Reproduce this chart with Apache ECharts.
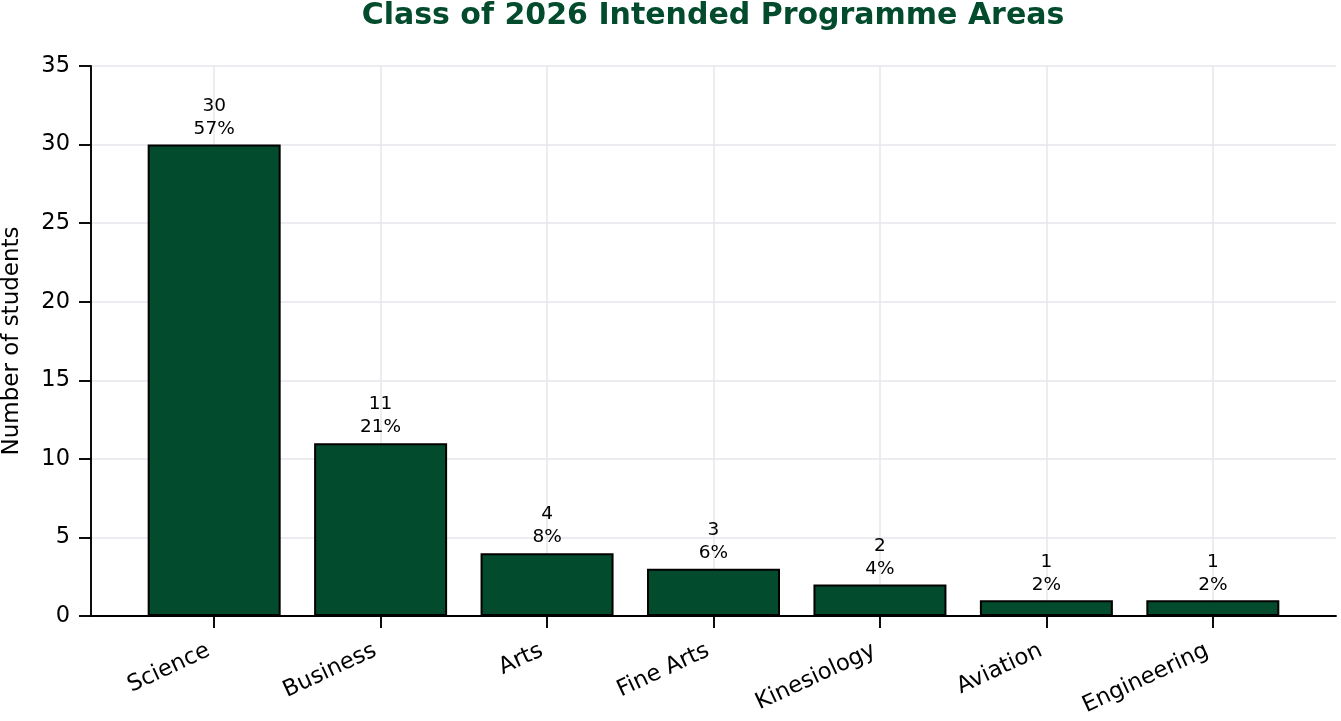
<!DOCTYPE html>
<html>
<head>
<meta charset="utf-8">
<script src="https://cdn.jsdelivr.net/npm/echarts@6/dist/echarts.min.js"></script>
<style>
html,body{margin:0;padding:0;background:#fff;}
#chart{width:1341px;height:721px;}
</style>
</head>
<body>
<div id="chart"></div>
<script>
const categories = ['Science', 'Business', 'Arts', 'Fine Arts', 'Kinesiology', 'Aviation', 'Engineering'];
const counts = [30, 11, 4, 3, 2, 1, 1];
const percents = ['57%', '21%', '8%', '6%', '4%', '2%', '2%'];
const yTicks = [0, 5, 10, 15, 20, 25, 30, 35];

const FONT = 'DejaVu Sans';
const GREEN = '#024b2c';
const positions = categories.map((c, i) => i);

const chart = echarts.init(document.getElementById('chart'), null, {renderer: 'canvas'});
chart.setOption({
  animation: false,
  backgroundColor: '#ffffff',
  title: {
    text: 'Class of 2026 Intended Programme Areas',
    left: 713,
    textAlign: 'center',
    top: 1,
    padding: 0,
    textStyle: {fontFamily: FONT, fontSize: 30, fontWeight: 'bold', color: GREEN}
  },
  grid: {left: 91, right: 5, top: 66, bottom: 105, containLabel: false, outerBoundsMode: 'none'},
  xAxis: {
    type: 'value',
    min: -0.74,
    max: 6.74,
    axisLine: {show: true, onZero: false, lineStyle: {color: '#000', width: 1.9}},
    axisTick: {show: true, customValues: positions, length: 12, lineStyle: {color: '#000', width: 1.9}},
    axisLabel: {
      show: true,
      customValues: positions,
      rotate: 25,
      margin: 31,
      padding: [0, 6, 0, 0],
      fontFamily: FONT,
      fontSize: 22.7,
      color: '#000',
      formatter: v => categories[Math.round(v)]
    },
    splitLine: {show: true, lineStyle: {color: '#e6e6ec', width: 1.5}}
  },
  yAxis: {
    type: 'value',
    min: 0,
    max: 35,
    interval: 5,
    name: 'Number of students',
    nameLocation: 'middle',
    nameGap: 67,
    nameRotate: 90,
    nameTextStyle: {fontFamily: FONT, fontSize: 23, color: '#000'},
    axisLine: {show: true, onZero: false, lineStyle: {color: '#000', width: 1.9}},
    axisTick: {show: true, length: 12, lineStyle: {color: '#000', width: 1.9}},
    axisLabel: {
      margin: 21,
      fontFamily: FONT,
      fontSize: 22.5,
      color: '#000',
      formatter: v => yTicks.includes(v) ? String(v) : ''
    },
    splitLine: {show: true, lineStyle: {color: '#e6e6ec', width: 1.5}}
  },
  series: [{
    type: 'bar',
    data: counts.map((v, i) => [positions[i], v]),
    barWidth: 133,
    itemStyle: {color: GREEN, borderColor: '#000', borderWidth: 2},
    label: {
      show: true,
      position: 'top',
      distance: 4,
      fontFamily: FONT,
      fontSize: 18.5,
      lineHeight: 23,
      color: '#000',
      formatter: p => counts[p.dataIndex] + '\n' + percents[p.dataIndex]
    }
  }]
});
</script>
</body>
</html>
